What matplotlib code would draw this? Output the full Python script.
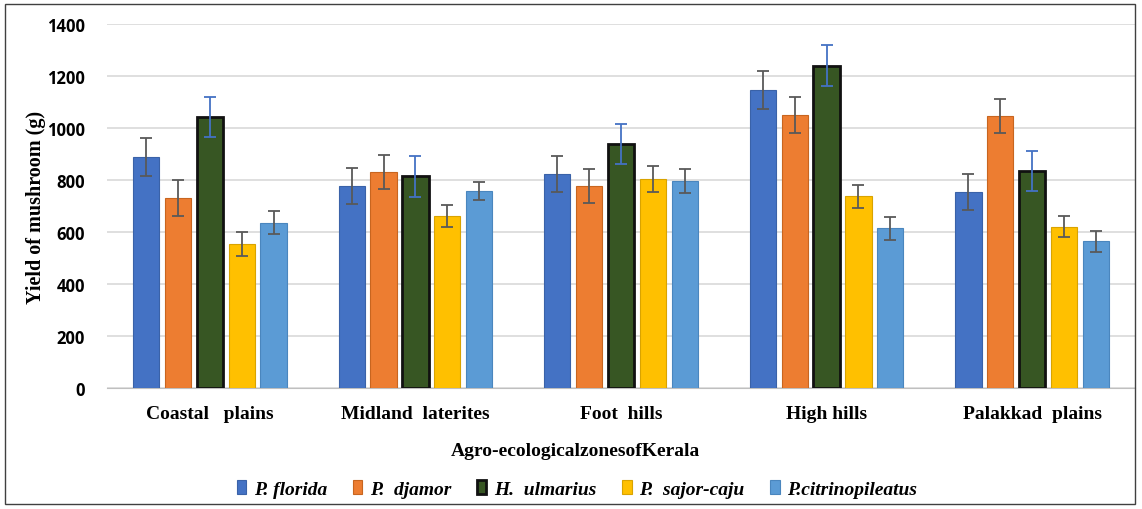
import matplotlib
matplotlib.use("Agg")
import matplotlib.pyplot as plt
import numpy as np
from matplotlib.patches import Rectangle

zones = ["Coastal   plains", "Midland  laterites", "Foot  hills", "High hills", "Palakkad  plains"]
series = ["P. florida", "P.  djamor", "H.  ulmarius", "P.  sajor-caju", "P.citrinopileatus"]
p_florida = [888, 777, 823, 1147, 754]
p_djamor = [731, 831, 777, 1050, 1045]
h_ulmarius = [1042, 815, 938, 1240, 835]
p_sajor = [554, 663, 804, 737, 620]
p_citrino = [635, 758, 796, 614, 565]
err_florida = [73, 71, 71, 72, 68]
err_djamor = [69, 67, 65, 68, 65]
err_ulmarius = [77, 79, 77, 79, 77]
err_sajor = [46, 42, 50, 45, 40]
err_citrino = [44, 35, 45, 44, 40]

values = [p_florida, p_djamor, h_ulmarius, p_sajor, p_citrino]
errors = [err_florida, err_djamor, err_ulmarius, err_sajor, err_citrino]
colors = ["#4472C4", "#ED7D31", "#375623", "#FFC000", "#5B9BD5"]
edges = ["#3A62A8", "#C8651F", "#111111", "#D9A300", "#4A86BE"]
ecolors = ["#595959", "#595959", "#4472C4", "#595959", "#595959"]

fig = plt.figure(figsize=(11.42, 5.10), dpi=100)
ax = fig.add_axes([107/1142, 1-389/510, (1135-107)/1142, (389-25)/510])

x = np.arange(len(zones))
step = 0.155
width = 0.128
for i, (vals, errs) in enumerate(zip(values, errors)):
    pos = x + (i - 2) * step
    ax.bar(pos, vals, width=width, color=colors[i], edgecolor=edges[i],
           linewidth=2.0 if i == 2 else 0.8, label=series[i], zorder=3)
    ax.errorbar(pos, vals, yerr=errs, fmt="none", ecolor=ecolors[i],
                elinewidth=1.3, capsize=4, capthick=1.3, zorder=4)

ax.set_ylim(0, 1400)
ax.set_xlim(-0.5, 4.5)
ax.set_yticks(range(0, 1401, 200))
ax.yaxis.grid(True, color="#D9D9D9", linewidth=1.2, zorder=0)
ax.set_axisbelow(True)
for s in ["top", "right", "left"]:
    ax.spines[s].set_visible(False)
ax.spines["bottom"].set_color("#BFBFBF")
ax.tick_params(axis="y", length=0, pad=16, labelsize=12)
ax.tick_params(axis="x", length=0, pad=12)
for t in ax.get_yticklabels():
    t.set_fontfamily("Open Sans")
    t.set_fontweight("bold")
ax.set_xticks(x)
ax.set_xticklabels(zones, fontfamily="Liberation Serif", fontweight="bold", fontsize=14)
ax.set_ylabel("Yield of mushroom (g)", fontfamily="Liberation Serif", fontweight="bold",
              fontsize=14.5)
ax.yaxis.set_label_coords((46 - 107) / 1028, 0.5)
fig.text(575/1142, 1-452/510, "Agro-ecologicalzonesofKerala", ha="center", va="center",
         fontfamily="Liberation Serif", fontweight="bold", fontsize=14)

leg = fig.legend(loc="center", bbox_to_anchor=(577/1142, 1-490/510), ncol=5, frameon=False,
                 prop={"family": "Liberation Serif", "weight": "bold", "style": "italic", "size": 14},
                 handlelength=0.5, handleheight=0.7, handletextpad=0.4, columnspacing=1.3)

fig.patches.append(Rectangle((5/1142, 5/510), 1130/1142, 500/510, transform=fig.transFigure,
                             fill=False, edgecolor="#404040", linewidth=1.0))
fig.savefig("out.png", dpi=100)
